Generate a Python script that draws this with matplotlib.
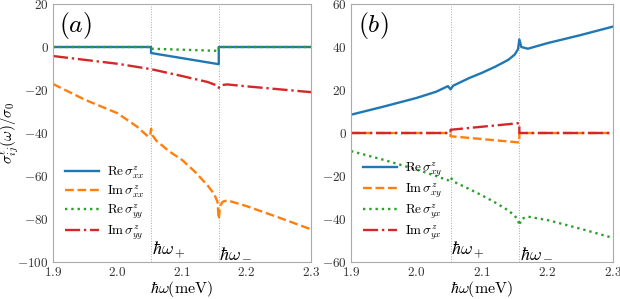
import matplotlib
matplotlib.use("Agg")
import matplotlib.pyplot as plt

plt.rcParams["mathtext.fontset"] = "cm"
plt.rcParams["font.family"] = "serif"
plt.rcParams["font.serif"] = ["cmr10", "DejaVu Serif"]
plt.rcParams["axes.formatter.use_mathtext"] = True

# ------------------------
# data
# ------------------------
w_plus = 2.052
w_minus = 2.157

# panel (a)
step_x_a = [1.90, w_plus, w_plus, w_minus, w_minus, 2.30]
re_xx = [0, 0, -2.8, -8.0, 0, 0]
re_yy = [0, 0, -0.8, -1.8, 0, 0]

im_xx_x = [1.90, 1.95, 2.00, 2.03, 2.048, 2.051, 2.052, 2.054, 2.06, 2.08, 2.10,
           2.12, 2.14, 2.150, 2.155, 2.157, 2.159, 2.163, 2.17, 2.20, 2.25, 2.30]
im_xx = [-17.2, -24.6, -30.8, -37.0, -41.8, -40.5, -38.0, -41.0, -43.5, -48.5, -52.5,
         -58.0, -64.5, -68.5, -72.0, -80.0, -74.0, -72.0, -71.3, -74.0, -79.3, -84.8]

im_yy_x = [1.90, 2.00, 2.052, 2.10, 2.14, 2.155, 2.157, 2.160, 2.17, 2.20, 2.30]
im_yy = [-4.2, -7.8, -10.3, -13.5, -16.3, -18.0, -19.0, -17.8, -17.4, -18.3, -21.0]

# panel (b)
step_x_b = [1.90, w_plus, w_plus, w_minus, w_minus, 2.30]
im_xy = [0, 0, -1.5, -4.4, 0, 0]
im_yx = [0, 0, 1.5, 4.6, 0, 0]

re_xy_x = [1.90, 1.95, 2.00, 2.03, 2.048, 2.052, 2.056, 2.08, 2.10, 2.12, 2.14,
           2.150, 2.155, 2.157, 2.160, 2.17, 2.20, 2.25, 2.30]
re_xy = [8.5, 12.3, 16.3, 19.2, 21.8, 20.3, 22.0, 25.5, 28.0, 30.8, 34.0,
         36.5, 39.0, 43.5, 40.0, 39.2, 41.8, 45.5, 49.5]

re_yx_x = [1.90, 1.95, 2.00, 2.03, 2.048, 2.052, 2.056, 2.08, 2.10, 2.12, 2.14,
           2.150, 2.155, 2.157, 2.160, 2.17, 2.20, 2.25, 2.30]
re_yx = [-8.4, -12.5, -17.0, -20.0, -22.0, -20.5, -22.5, -26.0, -29.0, -32.3, -36.0,
         -38.5, -40.5, -43.0, -40.0, -38.9, -40.5, -44.5, -48.8]

xticks = [1.9, 2.0, 2.1, 2.2, 2.3]

# ------------------------
# figure
# ------------------------
fig = plt.figure(figsize=(6.2, 2.99), dpi=100)
ax1 = fig.add_axes([53 / 620, 37 / 299, 258 / 620, 258 / 299])
ax2 = fig.add_axes([351 / 620, 37 / 299, 262 / 620, 258 / 299])

lw = 1.7
c_blue, c_orange, c_green, c_red = "#1f77b4", "#ff7f0e", "#2ca02c", "#d62728"

ax1.plot(step_x_a, re_xx, color=c_blue, lw=lw, label=r"$\mathrm{Re}\,\sigma^z_{xx}$")
ax1.plot(im_xx_x, im_xx, color=c_orange, lw=lw, ls="--", label=r"$\mathrm{Im}\,\sigma^z_{xx}$")
ax1.plot(step_x_a, re_yy, color=c_green, lw=lw, ls=":", label=r"$\mathrm{Re}\,\sigma^z_{yy}$")
ax1.plot(im_yy_x, im_yy, color=c_red, lw=lw, ls="-.", label=r"$\mathrm{Im}\,\sigma^z_{yy}$")
ax1.set_ylim(-100, 20)
ax1.set_yticks([-100, -80, -60, -40, -20, 0, 20])

ax2.plot(re_xy_x, re_xy, color=c_blue, lw=lw, label=r"$\mathrm{Re}\,\sigma^z_{xy}$")
ax2.plot(step_x_b, im_xy, color=c_orange, lw=lw, ls="--", label=r"$\mathrm{Im}\,\sigma^z_{xy}$")
ax2.plot(re_yx_x, re_yx, color=c_green, lw=lw, ls=":", label=r"$\mathrm{Re}\,\sigma^z_{yx}$")
ax2.plot(step_x_b, im_yx, color=c_red, lw=lw, ls="-.", label=r"$\mathrm{Im}\,\sigma^z_{yx}$")
ax2.set_ylim(-60, 60)
ax2.set_yticks([-60, -40, -20, 0, 20, 40, 60])

for ax, tag in [(ax1, "a"), (ax2, "b")]:
    ax.set_xlim(1.9, 2.3)
    ax.set_xticks(xticks)
    ax.axvline(w_plus, color="#aaaaaa", lw=0.7, ls=":", zorder=0)
    ax.axvline(w_minus, color="#aaaaaa", lw=0.7, ls=":", zorder=0)
    ax.set_xlabel(r"$\hbar\omega(\mathrm{meV})$", fontsize=11.5, labelpad=0)
    ax.text(0.025, 0.975, r"$(%s)$" % tag, transform=ax.transAxes,
            fontsize=18.5, va="top", ha="left")
    y0 = ax.get_ylim()[0]
    ax.text(w_plus + 0.001, y0 + 1, r"$\hbar\omega_+$", fontsize=13, va="bottom", ha="left")
    ax.text(w_minus + 0.001, y0 + 1, r"$\hbar\omega_-$", fontsize=13, va="bottom", ha="left")
    for s in ax.spines.values():
        s.set_color("#aaaaaa")
    ax.tick_params(labelcolor="#333333", labelsize=9.5, length=0, pad=3)
    ax.legend(loc="lower left", bbox_to_anchor=(0.0, 0.03), frameon=False,
              fontsize=9.5, handlelength=2.6, labelspacing=0.2, handletextpad=0.6)

ax1.set_ylabel(r"$\sigma^{\ell}_{ij}(\omega)/\sigma_0$", fontsize=11)
ax1.yaxis.set_label_coords(-0.127, 0.5)

fig.savefig("out.png", dpi=100)
